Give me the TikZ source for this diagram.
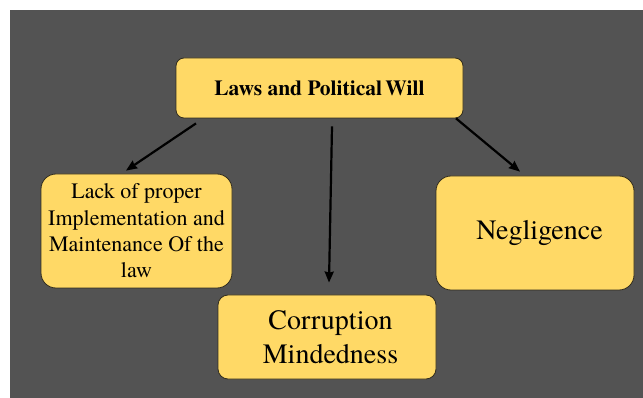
\documentclass[tikz,border=0pt]{standalone}
\usepackage{fontspec}
\setmainfont{texgyretermes}[Extension=.otf, UprightFont=*-regular,
  BoldFont=*-bold, ItalicFont=*-italic, BoldItalicFont=*-bolditalic]
\usetikzlibrary{arrows.meta}
\definecolor{panel}{RGB}{83,83,83}
\definecolor{boxfill}{RGB}{255,217,102}
\definecolor{boxline}{RGB}{50,45,30}
\tikzset{
  card/.style={draw=boxline, line width=0.8pt, fill=boxfill, align=center,
    inner sep=0pt, text=black},
  link/.style={draw=black, line width=2.2pt,
    -{Stealth[length=11pt,width=9pt,inset=1pt]}}
}
\begin{document}
\begin{tikzpicture}[x=1pt,y=-1pt]
  % page frame and dark panel
  \useasboundingbox (0,0) rectangle (643,398);
  \fill[white] (0,0) rectangle (643,398);
  \fill[panel] (10,10) rectangle (643,398);

  % boxes
  \node[card, rounded corners=8pt, minimum width=287pt, minimum height=60pt,
        font=\fontsize{21.5}{25}\selectfont\bfseries]
    (top) at (319.5,88) {Laws and Political\hspace{-2pt} Will};
  \node[card, rounded corners=15pt, minimum width=191pt, minimum height=114pt,
        font=\fontsize{22}{26.3}\selectfont]
    (left) at (136.5,231) {Lack of proper\\Implementation and\\Maintenance Of the\\law};
  \node[card, rounded corners=15pt, minimum width=198pt, minimum height=114pt,
        font=\fontsize{28}{33}\selectfont]
    (right) at (535,233) {\hspace{9pt}\raisebox{4pt}{Negligence}};
  \node[card, rounded corners=10pt, minimum width=218pt, minimum height=84pt,
        font=\fontsize{28}{33.5}\selectfont]
    (bottom) at (327,337) {\hspace{7pt}Corruption\\\hspace{7pt}Mindedness};

  % connectors
  \draw[link] ([shift={(-123.5,5)}]top.south) -- ([shift={(-10.5,-3)}]left.north);
  \draw[link] ([shift={(12.5,8)}]top.south) -- ([shift={(2,-12)}]bottom.north);
  \draw[link] ([shift={(136.5,0)}]top.south) -- ([shift={(-15,-4)}]right.north);
\end{tikzpicture}
\end{document}
